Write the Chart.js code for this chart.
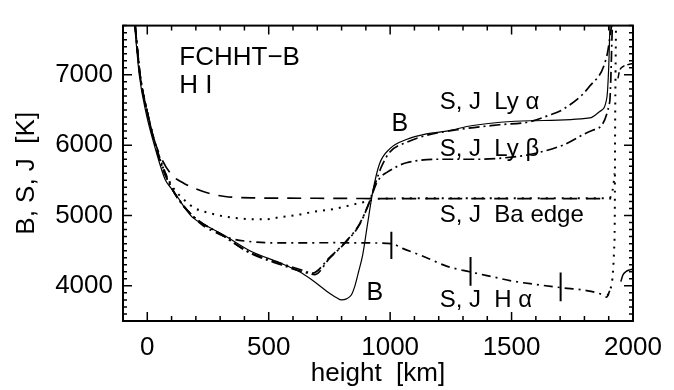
<!DOCTYPE html>
<html>
<head>
<meta charset="utf-8">
<script src="https://cdn.jsdelivr.net/npm/chart.js@4"></script>
<style>
  html, body { margin: 0; padding: 0; background: #fff; }
  #wrap { width: 674px; height: 390px; }
</style>
</head>
<body>
<div id="wrap"><canvas id="hiChart" width="674" height="390"></canvas></div>
<script>
// tick labels
var xTicks = [0, 500, 1000, 1500, 2000];
var yTicks = [4000, 5000, 6000, 7000];

// Planck function B
var heightB = [-52, -33, -4, 29, 50, 74, 100, 124, 150, 186, 240, 309, 433, 544, 627, 680, 740, 780, 800, 820, 840, 855, 870, 887, 907, 928, 956, 998, 1067, 1150, 1232, 1340, 1575, 1822, 1863, 1892, 1900, 1905, 1908];
var tempB = [7700, 7000, 6440, 6000, 5750, 5507, 5380, 5267, 5130, 4973, 4860, 4733, 4480, 4330, 4200, 4080, 3920, 3830, 3800, 3815, 3870, 4000, 4200, 4440, 4880, 5333, 5733, 5947, 6080, 6160, 6200, 6280, 6347, 6387, 6480, 6667, 7107, 7680, 7800];

// S, J Ly alpha
var heightLya = [-50, -30, 0, 30, 60, 100, 150, 214, 300, 420, 550, 640, 680, 750, 820, 874, 915, 944, 965, 998, 1067, 1150, 1298, 1450, 1575, 1650, 1711, 1822, 1892, 1912];
var sLya = [7700, 7010, 6470, 6040, 5700, 5390, 5130, 4920, 4740, 4480, 4320, 4220, 4180, 4400, 4640, 4880, 5200, 5507, 5700, 5900, 6040, 6140, 6230, 6290, 6333, 6420, 6507, 6840, 7267, 7700];

// S, J Ly beta
var heightLyb = [-50, -30, 0, 30, 60, 100, 150, 214, 300, 420, 550, 640, 690, 750, 820, 874, 915, 944, 965, 985, 1030, 1067, 1204, 1368, 1500, 1575, 1711, 1834, 1904, 1915];
var sLyb = [7700, 7010, 6470, 6040, 5700, 5390, 5130, 4920, 4740, 4470, 4300, 4200, 4160, 4390, 4630, 4870, 5190, 5460, 5560, 5610, 5700, 5750, 5800, 5800, 5830, 5867, 6000, 6213, 6613, 7700];
var heightLybTop = [1938, 1945, 1960, 1985, 2000];
var sLybTop = [6950, 7060, 7120, 7150, 7160];

// S, J Ba edge
var heightBaS = [-50, -30, 0, 30, 60, 100, 150, 200, 260, 320, 430, 700, 1000, 1300, 1600, 1910];
var sBa = [7700, 7000, 6470, 6060, 5800, 5580, 5460, 5380, 5310, 5270, 5250, 5245, 5240, 5240, 5240, 5240];
var heightBaJ = [-50, -30, 0, 30, 60, 103, 150, 194, 250, 297, 360, 433, 490, 544, 627, 680, 763, 820, 903, 960, 1200, 1500, 1800, 1900, 1912, 1920, 1924];
var jBa = [7700, 7000, 6470, 6050, 5720, 5413, 5230, 5107, 5040, 5000, 4965, 4947, 4947, 4975, 5013, 5050, 5090, 5133, 5200, 5240, 5245, 5245, 5245, 5245, 5300, 5450, 5600];

// S, J H alpha
var heightHa = [-50, -30, 0, 30, 60, 100, 150, 214, 280, 351, 420, 490, 600, 763, 900, 1005, 1051, 1150, 1232, 1327, 1420, 1505, 1600, 1706, 1809, 1870, 1892, 1904];
var sHa = [7700, 7000, 6470, 6050, 5740, 5400, 5140, 4900, 4760, 4667, 4630, 4613, 4610, 4613, 4610, 4600, 4533, 4400, 4280, 4200, 4130, 4067, 4020, 3973, 3933, 3880, 3840, 3930];
var heightHaJ = [1895, 1904, 1915, 1922, 1925, 1926, 1928, 1930];
var jHa = [3860, 3930, 4100, 4500, 5000, 6000, 7000, 7700];
var heightHaTop = [1950, 1958, 1970, 1990, 2000];
var sHaTop = [4060, 4150, 4200, 4230, 4240];

// tau = 1 markers on H alpha
var markHeight = [1005, 1331, 1702];
var markLow = [4380, 4000, 3780];
var markHigh = [4770, 4410, 4190];

function pts(xs, ys) {
  return xs.map(function (v, i) { return { x: v, y: ys[i] }; });
}

function line(label, xs, ys, dash, width) {
  return {
    label: label,
    data: pts(xs, ys),
    borderColor: "#000",
    borderWidth: width,
    borderDash: dash,
    pointRadius: 0,
    fill: false,
    cubicInterpolationMode: "monotone",
  };
}

var datasets = [
  line("B", heightB, tempB, [], 1.2),
  line("S Ly a", heightLya, sLya, [11, 4, 2, 4], 1.7),
  line("S Ly b", heightLyb, sLyb, [11, 4, 2, 4], 1.7),
  line("Ly b top", heightLybTop, sLybTop, [6, 3], 1.5),
  line("S Ba", heightBaS, sBa, [14, 9], 1.7),
  line("J Ba", heightBaJ, jBa, [2, 6], 2),
  line("S Ha", heightHa, sHa, [9, 5, 2, 5], 1.7),
  line("J Ha", heightHaJ, jHa, [2, 6], 2),
  line("Ha top", heightHaTop, sHaTop, [], 1.5),
];
markHeight.forEach(function (h, i) {
  datasets.push(line("mark", [h, h], [markLow[i], markHigh[i]], [], 2));
});

var notes = [
  ["FCHHT\u2212B", 132, 7133, 26],
  ["H I", 132, 6747, 26],
  ["S, J  Ly \u03b1", 1204, 6520, 24],
  ["B", 1006, 6200, 25],
  ["S, J  Ly \u03b2", 1204, 5840, 24],
  ["S, J  Ba edge", 1204, 4907, 24],
  ["B", 903, 3800, 25],
  ["S, J  H \u03b1", 1204, 3693, 24],
];

var FONT = "'Liberation Sans', Arial, Helvetica, sans-serif";

var frameTicks = {
  id: "frameTicks",
  afterDraw: function (chart) {
    var ctx = chart.ctx;
    var a = chart.chartArea;
    var xs = chart.scales.x;
    var ys = chart.scales.y;
    ctx.save();
    ctx.strokeStyle = "#000";
    ctx.lineWidth = 1.5;
    ctx.beginPath();
    for (var v = -100; v <= 2000; v += 100) {
      var px = xs.getPixelForValue(v);
      var len = v % 500 === 0 ? 9 : 5;
      ctx.moveTo(px, a.bottom);
      ctx.lineTo(px, a.bottom - len);
      ctx.moveTo(px, a.top);
      ctx.lineTo(px, a.top + len);
    }
    for (var w = 3500; w <= 7700; w += 100) {
      var py = ys.getPixelForValue(w);
      var l2 = w % 1000 === 0 ? 9 : 4;
      ctx.moveTo(a.left, py);
      ctx.lineTo(a.left + l2, py);
      ctx.moveTo(a.right, py);
      ctx.lineTo(a.right - l2, py);
    }
    ctx.stroke();
    ctx.lineWidth = 2;
    ctx.strokeRect(a.left, a.top, a.right - a.left, a.bottom - a.top);

    ctx.fillStyle = "#000";
    ctx.textBaseline = "alphabetic";
    ctx.textAlign = "left";
    notes.forEach(function (n) {
      ctx.font = n[3] + "px " + FONT;
      ctx.fillText(n[0], xs.getPixelForValue(n[1]), ys.getPixelForValue(n[2]));
    });
    ctx.restore();
  },
};

function plain(value) {
  return String(value);
}

new Chart(document.getElementById("hiChart"), {
  type: "line",
  data: { datasets: datasets },
  options: {
    responsive: false,
    animation: false,
    spanGaps: false,
    layout: { padding: { top: 5, right: 41, left: 0, bottom: 0 } },
    plugins: { legend: { display: false }, tooltip: { enabled: false } },
    scales: {
      x: {
        type: "linear",
        min: -100,
        max: 2000,
        afterBuildTicks: function (s) {
          s.ticks = xTicks.map(function (v) { return { value: v }; });
        },
        afterFit: function (s) { s.height = 69; },
        grid: { display: false, drawTicks: false },
        border: { display: false },
        ticks: {
          color: "#000",
          padding: 11,
          maxRotation: 0,
          callback: plain,
          font: { family: FONT, size: 26 },
        },
        title: {
          display: true,
          text: "height  [km]",
          color: "#000",
          font: { family: FONT, size: 26 },
          padding: { top: 0, bottom: 1 },
        },
      },
      y: {
        type: "linear",
        min: 3500,
        max: 7700,
        afterBuildTicks: function (s) {
          s.ticks = yTicks.map(function (v) { return { value: v }; });
        },
        afterFit: function (s) { s.width = 123; },
        grid: { display: false, drawTicks: false },
        border: { display: false },
        ticks: {
          color: "#000",
          padding: 10,
          callback: plain,
          font: { family: FONT, size: 26 },
        },
        title: {
          display: true,
          text: "B, S, J  [K]",
          color: "#000",
          font: { family: FONT, size: 26 },
          padding: { top: 11, bottom: 0 },
        },
      },
    },
  },
  plugins: [frameTicks],
});
</script>
</body>
</html>
